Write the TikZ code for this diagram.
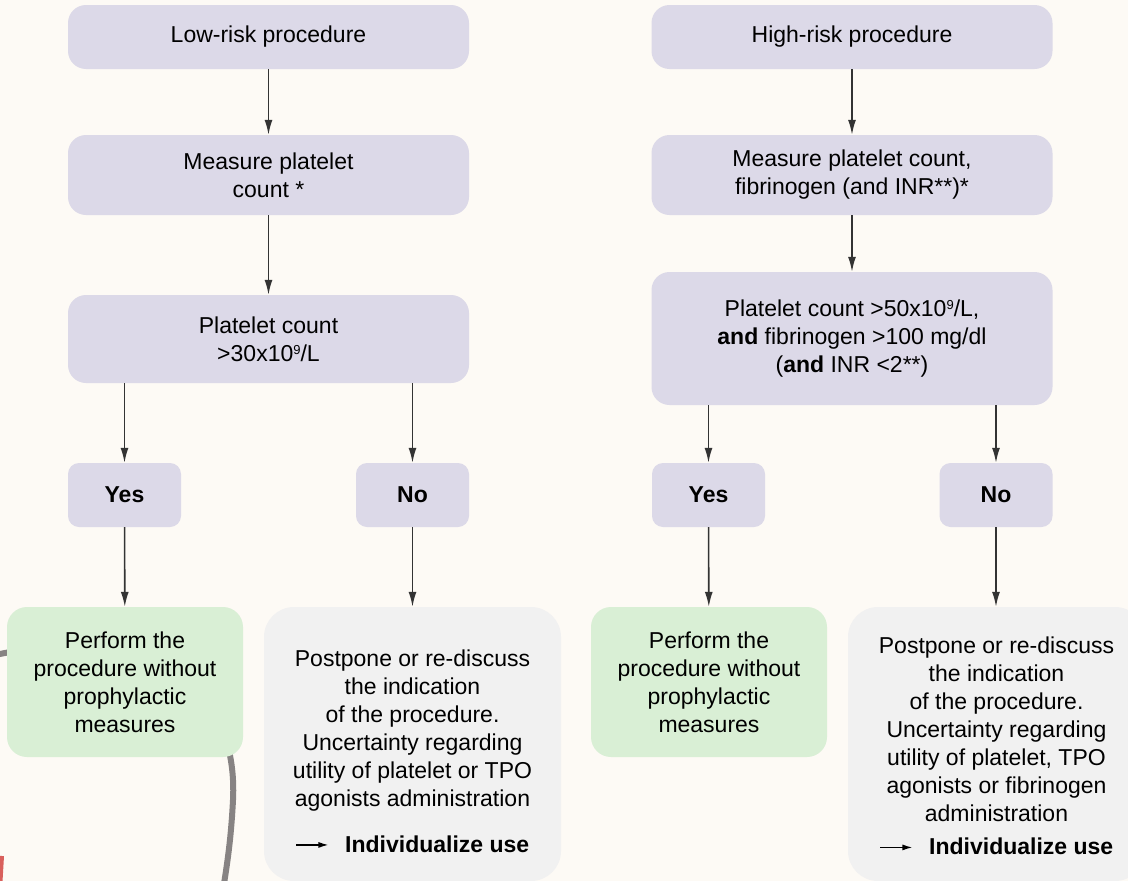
\documentclass[tikz,border=0pt]{standalone}
\usepackage{fontspec}
\setmainfont{Liberation Sans}
\usetikzlibrary{arrows.meta,calc}
\definecolor{bg}{HTML}{FDFAF5}
\definecolor{lav}{HTML}{DCD9E8}
\definecolor{grn}{HTML}{D9EFD5}
\definecolor{gry}{HTML}{F1F1F1}
\definecolor{arrc}{HTML}{333333}
\definecolor{curve}{HTML}{878383}
\definecolor{redc}{HTML}{D9605C}
\tikzset{
  txt/.style={align=center, font=\fontsize{23}{28}\selectfont, inner sep=0pt},
  bigbox/.style={txt, rounded corners=18pt, fill=lav, minimum width=401pt},
  smallbox/.style={txt, rounded corners=11pt, fill=lav, minimum width=113pt, minimum height=64pt, font=\fontsize{23}{28}\selectfont\bfseries},
  greenbox/.style={txt, rounded corners=20pt, fill=grn, minimum width=236pt, minimum height=150pt},
  greybox/.style={rounded corners=30pt, fill=gry, minimum width=297pt, minimum height=274pt, inner sep=0pt},
  arr/.style={draw=arrc, line width=1.6pt, -{Latex[length=15pt,width=8pt]}},
}
\newcommand{\inlinearrow}{\tikz[baseline=-0.6ex]\draw[draw=black, line width=1.4pt, -{Latex[length=10pt,width=6pt]}] (0pt,0pt) -- (32pt,0pt);}
\newcommand{\supnine}{\raisebox{7pt}{\fontsize{13}{13}\selectfont 9}}
\begin{document}
\begin{tikzpicture}[x=1pt,y=-1pt]
\clip (0,0) rectangle (1128,881);
\fill[bg] (0,0) rectangle (1128,881);
% decorative background curves
\draw[curve, line width=6pt] (-5,655) .. controls (170,618) and (238,700) .. (233,800) .. controls (231,840) and (227,865) .. (223,890);
\draw[redc, line width=4pt] (2,856) -- (0,890);
% left column
\node[bigbox, minimum height=64pt] (a1) at (268.5,37) {Low-risk procedure};
\node[bigbox, minimum height=80pt] (a2) at (268.5,175) {Measure platelet\\count *};
\node[bigbox, minimum height=88pt] (a3) at (268.5,339) {Platelet count\\>30x10\supnine/L};
\node[smallbox] (a4) at (124.5,495) {Yes};
\node[smallbox] (a5) at (412.5,495) {No};
\node[greenbox] (a6) at (125,682) {Perform the\\procedure without\\prophylactic\\measures};
\node[greybox] (a7) at (412.5,744) {};
\node[txt] (a7t) at (412.5,751) {Postpone or re-discuss\\the indication\\of the procedure.\\Uncertainty regarding\\utility of platelet or TPO\\agonists administration\\[18pt]\inlinearrow\hspace{16pt}\textbf{Individualize use}};
% right column
\node[bigbox, minimum height=64pt] (b1) at (852,37) {High-risk procedure};
\node[bigbox, minimum height=80pt] (b2) at (852,175) {Measure platelet count,\\fibrinogen (and INR**)*};
\node[bigbox, minimum height=133pt] (b3) at (852,338.5) {Platelet count >50x10\supnine/L,\\\textbf{and} fibrinogen >100 mg/dl\\(\textbf{and} INR <2**)};
\node[smallbox] (b4) at (708.5,495) {Yes};
\node[smallbox] (b5) at (996,495) {No};
\node[greenbox] (b6) at (709,682) {Perform the\\procedure without\\prophylactic\\measures};
\node[greybox] (b7) at (996.5,744) {};
\node[txt] (b7t) at (996.5,746) {Postpone or re-discuss\\the indication\\of the procedure.\\Uncertainty regarding\\utility of platelet, TPO\\agonists or fibrinogen\\administration\\[5pt]\inlinearrow\hspace{16pt}\textbf{Individualize use}};
% connectors
\draw[arr] (a1) -- (a2);
\draw[arr] (a2) -- (a3);
\draw[arr] (a4 |- a3.south) -- (a4.north);
\draw[arr] (a5 |- a3.south) -- (a5.north);
\draw[arr] (a4) -- (a6);
\draw[arr] (a5.south) -- (a5 |- a7.north);
\draw[arr] (b1) -- (b2);
\draw[arr] (b2) -- (b3);
\draw[arr] (b4 |- b3.south) -- (b4.north);
\draw[arr] (b5 |- b3.south) -- (b5.north);
\draw[arr] (b4) -- (b6);
\draw[arr] (b5.south) -- (b5 |- b7.north);
\end{tikzpicture}
\end{document}
